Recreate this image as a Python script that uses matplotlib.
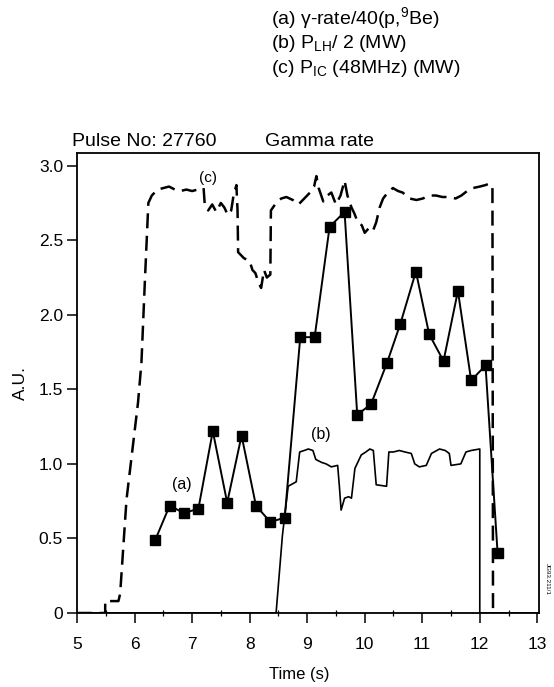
import matplotlib
matplotlib.use("Agg")
import matplotlib.pyplot as plt
from matplotlib.ticker import MultipleLocator, FixedLocator

plt.rcParams['font.family'] = ['Liberation Sans', 'DejaVu Sans']
plt.rcParams['mathtext.fontset'] = 'custom'
plt.rcParams['mathtext.rm'] = 'Liberation Sans'
plt.rcParams['mathtext.it'] = 'Liberation Sans'

# (a) gamma rate / 40
a_t = [6.36, 6.61, 6.86, 7.11, 7.36, 7.61, 7.86, 8.11, 8.36, 8.61, 8.88, 9.13,
       9.39, 9.65, 9.87, 10.11, 10.39, 10.62, 10.89, 11.12, 11.37, 11.62, 11.85,
       12.10, 12.31]
a_v = [0.49, 0.72, 0.67, 0.70, 1.22, 0.74, 1.19, 0.72, 0.61, 0.64, 1.85, 1.85,
       2.59, 2.69, 1.33, 1.40, 1.68, 1.94, 2.29, 1.87, 1.69, 2.16, 1.56,
       1.66, 0.40]

# (b) P_LH / 2
b_t = [5.0, 8.46, 8.57, 8.67, 8.81, 8.87, 8.95, 9.02, 9.10, 9.15, 9.25, 9.33,
       9.42, 9.53, 9.56, 9.59, 9.65, 9.72, 9.77, 9.83, 9.94, 10.02, 10.09, 10.15,
       10.20, 10.38, 10.42, 10.50, 10.60, 10.70, 10.81, 10.87, 10.95, 11.07,
       11.16, 11.30, 11.40, 11.47, 11.50, 11.67, 11.76, 11.85, 12.00, 12.00, 13.05]
b_v = [0.0, 0.0, 0.52, 0.85, 0.88, 1.08, 1.09, 1.10, 1.09, 1.03, 1.01, 1.00,
       0.98, 0.99, 0.85, 0.69, 0.77, 0.78, 0.77, 0.97, 1.06, 1.08, 1.10, 1.09,
       0.86, 0.85, 1.08, 1.08, 1.09, 1.08, 1.07, 1.00, 0.98, 0.99,
       1.07, 1.10, 1.09, 1.07, 0.99, 1.00, 1.08, 1.09, 1.10, 0.0, 0.0]

# (c) P_IC (48 MHz)
c_t = [5.0, 5.49, 5.49, 5.72, 5.75, 5.86, 6.06, 6.12, 6.18, 6.24, 6.30, 6.40,
       6.50, 6.60, 6.70, 6.80, 6.90, 7.00, 7.10, 7.20, 7.22, 7.28, 7.35, 7.42,
       7.50, 7.56, 7.62, 7.68, 7.72, 7.77, 7.79, 7.80, 7.85, 7.90, 7.95, 8.00,
       8.05, 8.10, 8.15, 8.20, 8.25, 8.30, 8.36, 8.37, 8.46, 8.55, 8.64, 8.75,
       8.85, 8.95, 9.05, 9.12, 9.16, 9.20, 9.28, 9.35, 9.42, 9.50, 9.58, 9.65,
       9.70, 9.77, 9.82, 9.88, 9.95, 10.00, 10.07, 10.14, 10.20, 10.26, 10.32,
       10.40, 10.49, 10.58, 10.66, 10.78, 10.90, 11.01, 11.12, 11.24, 11.35,
       11.46, 11.58, 11.68, 11.78, 11.88, 12.00, 12.10, 12.17, 12.22, 12.23]
c_v = [0.0, 0.0, 0.08, 0.08, 0.13, 0.76, 1.41, 1.68, 2.23, 2.75, 2.80, 2.84,
       2.85, 2.86, 2.84, 2.83, 2.84, 2.83, 2.84, 2.85, 2.74, 2.70, 2.74, 2.69,
       2.75, 2.72, 2.67, 2.70, 2.80, 2.87, 2.70, 2.42, 2.40, 2.38, 2.37, 2.36,
       2.30, 2.28, 2.22, 2.18, 2.30, 2.25, 2.27, 2.70, 2.75, 2.78, 2.79, 2.77,
       2.74, 2.78, 2.82, 2.86, 2.93, 2.85, 2.76, 2.80, 2.82, 2.74, 2.80, 2.90,
       2.80, 2.72, 2.68, 2.62, 2.60, 2.55, 2.58, 2.56, 2.62, 2.72, 2.78,
       2.82, 2.85, 2.83, 2.82, 2.78, 2.77, 2.78, 2.80, 2.80, 2.79,
       2.79, 2.78, 2.80, 2.83, 2.85, 2.86, 2.87, 2.88, 2.86, 0.0]

y_ticks = [0.0, 0.5, 1.0, 1.5, 2.0, 2.5, 3.0]
y_ticklabels = ["0", "0.5", "1.0", "1.5", "2.0", "2.5", "3.0"]
x_ticks = [5, 6, 7, 8, 9, 10, 11, 12, 13]

fig = plt.figure(figsize=(5.54, 6.87), dpi=100)
ax = fig.add_axes([0.139, 0.1077, 0.834, 0.670])

ax.plot(c_t, c_v, color='black', lw=1.8, linestyle=(0, (6, 3)))
ax.plot(b_t, b_v, color='black', lw=1.2)
ax.plot(a_t, a_v, color='black', lw=1.4, marker='s', markersize=6.5,
        markerfacecolor='black', markeredgecolor='black')

ax.set_xlim(5, 13.03)
ax.set_ylim(0, 3.087)
ax.set_xticks(x_ticks)
ax.set_xticklabels([str(x) for x in x_ticks])
ax.xaxis.set_minor_locator(MultipleLocator(0.5))
ax.yaxis.set_major_locator(FixedLocator(y_ticks))
ax.set_yticklabels(y_ticklabels)
ax.tick_params(axis='both', which='major', direction='out', length=7,
               width=1.1, labelsize=12.5, colors='black')
ax.tick_params(axis='x', which='major', pad=10)
ax.tick_params(axis='y', which='major', pad=3)
ax.tick_params(axis='x', which='minor', direction='inout', length=5, width=0.9)
for s in ax.spines.values():
    s.set_linewidth(1.3)

ax.set_xlabel("Time (s)", fontsize=12)
ax.set_ylabel("A.U.", fontsize=12.5)
ax.xaxis.set_label_coords(0.482, -0.117)
ax.yaxis.set_label_coords(-0.106, 0.5)

ax.text(7.27, 2.92, "(c)", fontsize=11, ha='center', va='center')
ax.text(6.82, 0.86, "(a)", fontsize=11.5, ha='center', va='center')
ax.text(9.23, 1.20, "(b)", fontsize=11.5, ha='center', va='center')

fig.text(0.130, 0.788, "Pulse No: 27760", fontsize=14, ha='left', va='baseline')
fig.text(0.478, 0.788, "Gamma rate", fontsize=14, ha='left', va='baseline')

fig.text(0.490, 0.974, "(a) γ-rate/40(p,$^{9}$Be)", fontsize=14, ha='left', va='center')
fig.text(0.490, 0.937, "(b) P$_{\\rm LH}$/ 2 (MW)", fontsize=14, ha='left', va='center')
fig.text(0.490, 0.901, "(c) P$_{\\rm IC}$ (48MHz) (MW)", fontsize=14, ha='left', va='center')

fig.text(0.988, 0.158, "JG93.211/1", fontsize=4.5, rotation=270, ha='center', va='center')

fig.savefig("out.png", dpi=100)
